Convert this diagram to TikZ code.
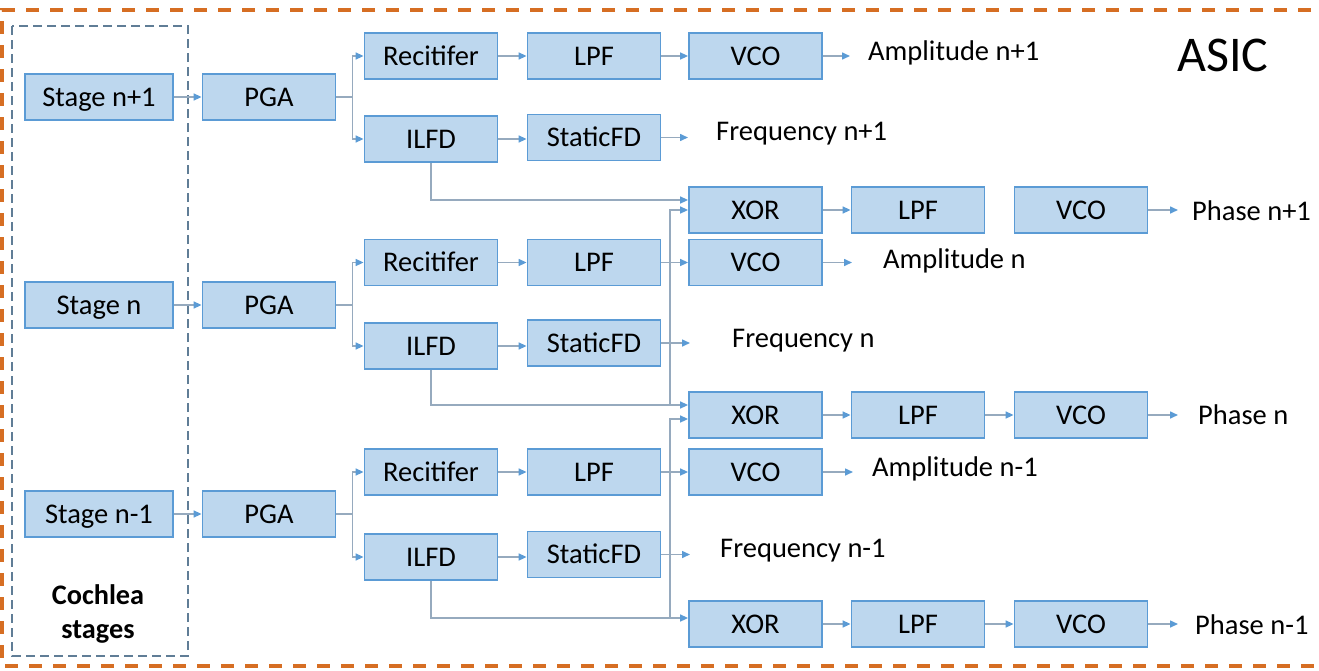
\documentclass[tikz,border=0pt]{standalone}
\usepackage{fontspec}
\setmainfont{Carlito}
\usetikzlibrary{arrows.meta,calc}

\definecolor{boxfill}{RGB}{189,215,238}
\definecolor{boxline}{RGB}{91,155,213}
\definecolor{wirecol}{RGB}{150,170,190}
\definecolor{tipblue}{RGB}{91,155,213}
\definecolor{asicorange}{RGB}{214,110,35}
\definecolor{groupgray}{RGB}{96,125,150}

\tikzset{
  blk/.style={draw=boxline, fill=boxfill, line width=1.8pt,
    minimum width=133pt, minimum height=46pt, inner sep=0pt,
    text height=18.5pt, text depth=0pt,
    font=\fontsize{28.5}{34}\selectfont},
  stagebox/.style={blk, minimum width=148pt},
  plainwire/.style={draw=wirecol, line width=1.5pt},
  conn/.style={plainwire, -{Triangle[length=8pt,width=7pt,color=tipblue]}},
  lbl/.style={anchor=west, inner sep=0pt, font=\fontsize{28.5}{34}\selectfont},
}

\begin{document}
\begin{tikzpicture}[x=1pt,y=-1pt]
\useasboundingbox (0,0) rectangle (1319,670);

% ASIC boundary and the cochlea group
\draw[asicorange, line width=3.5pt, dash pattern=on 13pt off 11pt]
  (1335,10) -- (2,10) -- (2,666) -- (1335,666);
\draw[groupgray, line width=1.8pt, dash pattern=on 9pt off 5pt]
  (12,26) rectangle (188,656);
\node[font=\bfseries\fontsize{28.3}{34}\selectfont, align=center] (coch) at (98,614) {Cochlea\\stages};
\node[font=\fontsize{50}{60}\selectfont, inner sep=0pt] (asic) at (1223,55) {ASIC};

% ---------- channel n+1 ----------
\node[stagebox] (st1)   at (99,97)     {Stage n+1};
\node[blk]      (pga1)  at (269,97)    {PGA};
\node[blk]      (rec1)  at (431,56)    {Recitifer};
\node[blk]      (ilfd1) at (431,139)   {ILFD};
\node[blk]      (lpf1)  at (594,56)    {LPF};
\node[blk]      (sfd1)  at (594,137.5) {StaticFD};
\node[blk]      (vcoa1) at (755.5,56)  {VCO};
\node[blk]      (xor1)  at (755.5,210) {XOR};
\node[blk]      (lpfp1) at (918,210)   {LPF};
\node[blk]      (vcop1) at (1081,210)  {VCO};

% ---------- channel n ----------
\node[stagebox] (st2)   at (99,305)    {Stage n};
\node[blk]      (pga2)  at (269,305)   {PGA};
\node[blk]      (rec2)  at (431,262.5) {Recitifer};
\node[blk]      (ilfd2) at (431,346)   {ILFD};
\node[blk]      (lpf2)  at (594,262.5) {LPF};
\node[blk]      (sfd2)  at (594,343)   {StaticFD};
\node[blk]      (vcoa2) at (755.5,262.5) {VCO};
\node[blk]      (xor2)  at (755.5,415) {XOR};
\node[blk]      (lpfp2) at (918,415)   {LPF};
\node[blk]      (vcop2) at (1081,415)  {VCO};

% ---------- channel n-1 ----------
\node[stagebox] (st3)   at (99,514)    {Stage n-1};
\node[blk]      (pga3)  at (269,514)   {PGA};
\node[blk]      (rec3)  at (431,472)   {Recitifer};
\node[blk]      (ilfd3) at (431,557)   {ILFD};
\node[blk]      (lpf3)  at (594,472)   {LPF};
\node[blk]      (sfd3)  at (594,554.5) {StaticFD};
\node[blk]      (vcoa3) at (755.5,472) {VCO};
\node[blk]      (xor3)  at (755.5,624) {XOR};
\node[blk]      (lpfp3) at (918,624)   {LPF};
\node[blk]      (vcop3) at (1081,624)  {VCO};

% output labels
\node[lbl] (amp1)  at (868,53)   {Amplitude n+1};
\node[lbl] (freq1) at (716,134)  {Frequency n+1};
\node[lbl] (ph1)   at (1192,211) {Phase n+1};
\node[lbl] (amp2)  at (883,261)  {Amplitude n};
\node[lbl] (freq2) at (732,341)  {Frequency n};
\node[lbl] (ph2)   at (1198,415) {Phase n};
\node[lbl] (amp3)  at (872,469)  {Amplitude n-1};
\node[lbl] (freq3) at (720,551)  {Frequency n-1};
\node[lbl] (ph3)   at (1195,625) {Phase n-1};

% free ends of the output arrows
\coordinate (ea1) at (850,56);
\coordinate (ef1) at (688,137.5);
\coordinate (ep1) at (1178,210);
\coordinate (ea2) at (852,262.5);
\coordinate (ef2) at (690,343);
\coordinate (ep2) at (1178,415);
\coordinate (ea3) at (853,472);
\coordinate (ef3) at (690,554.5);
\coordinate (ep3) at (1178,624);

% stage -> PGA -> split into rectifier and ILFD branches
\foreach \i in {1,2,3}{
  \coordinate (b\i) at ($(pga\i.east)+(16,0)$);
  \draw[conn] (st\i) -- (pga\i);
  \draw[plainwire] (pga\i.east) -- (b\i);
  \draw[conn] (b\i) |- (rec\i.west);
  \draw[conn] (b\i) |- (ilfd\i.west);
  \draw[conn] (rec\i) -- (lpf\i);
  \draw[conn] (lpf\i) -- (vcoa\i);
  \draw[conn] (ilfd\i.east) -- (ilfd\i.east -| sfd\i.west);
  \draw[conn] (vcoa\i) -- (ea\i);
  \draw[conn] (sfd\i) -- (ef\i);
  \draw[conn] (vcop\i) -- (ep\i);
}
\draw[conn] (xor1) -- (lpfp1);
\draw[conn] (xor2) -- (lpfp2);
\draw[conn] (lpfp2) -- (vcop2);
\draw[conn] (xor3) -- (lpfp3);
\draw[conn] (lpfp3) -- (vcop3);

% ILFD outputs feeding the phase detectors
\coordinate (j2) at (670,405);
\coordinate (j3) at (670,618);
\draw[conn] (ilfd1.south) |- ([yshift=10pt]xor1.west);
\draw[conn] (ilfd2.south) |- ([yshift=10pt]xor2.west);
\draw[conn] (j2) |- (xor1.west);
\draw[conn] (ilfd3.south) |- ([yshift=6pt]xor3.west);
\draw[conn] (j3) |- ([yshift=-4pt]xor2.west);
\end{tikzpicture}
\end{document}
